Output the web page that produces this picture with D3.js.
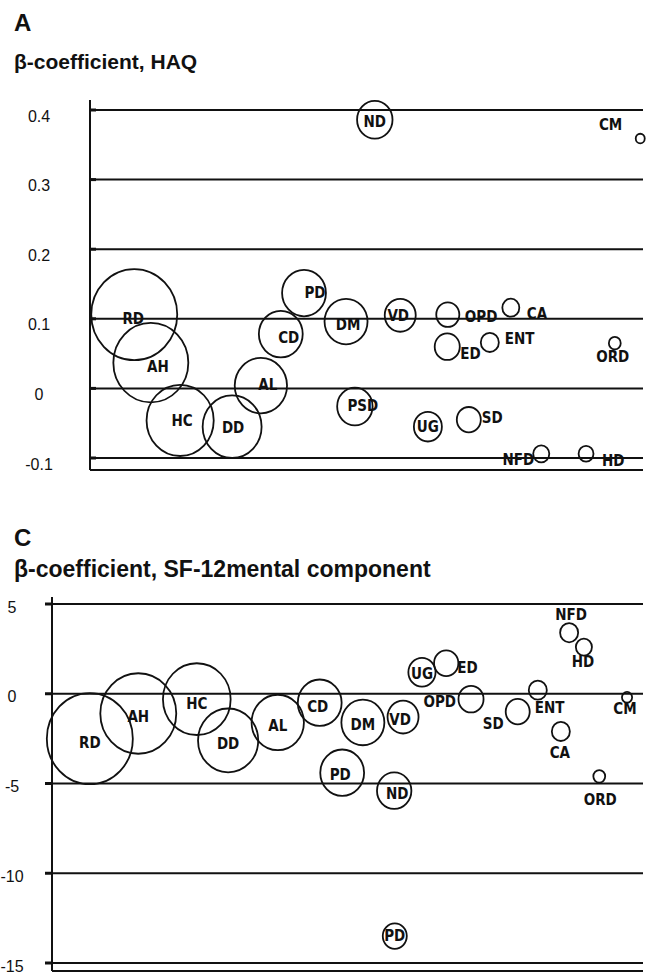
<!DOCTYPE html>
<html>
<head>
<meta charset="utf-8">
<script src="https://cdn.jsdelivr.net/npm/d3@7"></script>
<style>
  body { margin: 0; background: #fff; }
  .lbl { font-family: "DejaVu Sans Condensed", "DejaVu Sans", sans-serif; font-weight: bold; font-size: 15px; fill: #111; }
  .tick-lbl { font-family: "Liberation Sans", Arial, sans-serif; font-size: 16px; fill: #111; }
  .ptitle { font-family: "Liberation Sans", Arial, sans-serif; font-weight: bold; fill: #111; }
</style>
</head>
<body>
<svg id="chart" width="646" height="974"></svg>
<script>
// Panel A: beta-coefficient, HAQ
var haqLabels = ["RD","AH","HC","DD","AL","CD","PD","DM","PSD","ND","VD","UG","ED","OPD","SD","ENT","CA","NFD","HD","ORD","CM"];
var haqPos    = [8.0, 11.0, 16.3, 25.7, 30.9, 34.5, 38.7, 46.3, 47.9, 51.5, 56.1, 61.1, 64.6, 64.7, 68.5, 72.3, 76.1, 81.6, 89.7, 94.9, 99.5];
var haqBeta   = [0.106, 0.037, -0.046, -0.055, 0.004, 0.078, 0.137, 0.096, -0.026, 0.386, 0.105, -0.055, 0.060, 0.106, -0.045, 0.066, 0.116, -0.094, -0.094, 0.065, 0.359];
var haqSize   = [100, 76, 61, 47, 37, 26, 26, 25, 17, 17, 13, 10.6, 8.5, 7.2, 7.8, 4.4, 3.9, 3.5, 3.0, 1.9, 1.1];
var haqTicks  = [-0.1, 0, 0.1, 0.2, 0.3, 0.4];

// Panel C: beta-coefficient, SF-12 mental component
var mcsLabels = ["RD","AH","HC","DD","AL","CD","PD","DM","ND","VD","UG","ED","OPD","SD","ENT","CA","NFD","HD","ORD","CM","PD"];
var mcsPos    = [6.4, 14.6, 24.5, 29.8, 38.2, 45.3, 49.1, 52.6, 57.9, 59.4, 62.6, 66.7, 70.9, 78.8, 82.2, 86.1, 87.5, 90.0, 92.6, 97.3, 58.0];
var mcsBeta   = [-2.5, -1.1, -0.3, -2.6, -1.6, -0.5, -4.4, -1.6, -5.4, -1.3, 1.2, 1.7, -0.3, -1.0, 0.2, -2.1, 3.4, 2.6, -4.6, -0.2, -13.5];
var mcsSize   = [100, 78, 62, 49, 37, 26, 26, 25, 16, 13, 10, 8, 8.5, 7.8, 4.4, 4.4, 4.4, 3.5, 1.9, 1.4, 7.8];
var mcsTicks  = [-15, -10, -5, 0, 5];

// label placement (anchor, dx, dy from bubble centre)
var haqPlace = [["middle",-1,4],["middle",7,4],["middle",2,1],["middle",1,1],["middle",7,-1],["middle",8,4],["middle",11,0],
  ["middle",2,3],["middle",8,0],["middle",0,2],["middle",-2,1],["middle",0,0],["start",13,7],["start",17,2],["start",13,-2],
  ["start",15,-3],["start",16,6],["end",-7,6],["start",16,7],["middle",-2,14],["end",-18,-14]];
var mcsPlace = [["middle",0,4],["middle",0,4],["middle",0,5],["middle",0,4],["middle",0,4],["middle",-2,4],["middle",-2,2],
  ["middle",0,3],["middle",3,3],["middle",-3,3],["middle",0,2],["start",11,5],["end",-15,3],["end",-14,12],["start",-3,18],
  ["middle",-1,22],["middle",2,-18],["middle",-1,15],["middle",1,24],["middle",-2,12],["middle",0,0]];

var svg = d3.select("#chart");
var rScale = d3.scaleSqrt().domain([0, 100]).range([0, 43]);

function drawPanel(o) {
  var g = svg.append("g");
  var x = d3.scaleLinear().domain([0, 100]).range([o.left, o.right]);
  var y = d3.scaleLinear().domain([o.ticks[0], o.ticks[o.ticks.length - 1]]).range([o.bottom, o.top]);

  g.append("text").attr("class", "ptitle").attr("x", 14).attr("y", o.letterY)
    .attr("font-size", 24).text(o.letter);
  g.append("text").attr("class", "ptitle").attr("x", 14).attr("y", o.titleY)
    .attr("font-size", o.titleSize).text(o.title);

  // gridlines
  g.selectAll(".grid").data(o.ticks).enter().append("line")
    .attr("x1", o.left).attr("x2", o.right)
    .attr("y1", function(d) { return y(d); }).attr("y2", function(d) { return y(d); })
    .attr("stroke", "#111").attr("stroke-width", 2);

  // tick stubs
  g.selectAll(".stub").data(o.ticks).enter().append("line")
    .attr("x1", o.left + o.stub).attr("x2", o.left)
    .attr("y1", function(d) { return y(d); }).attr("y2", function(d) { return y(d); })
    .attr("stroke", "#111").attr("stroke-width", 3);

  // axis frame
  g.append("line").attr("x1", o.left).attr("x2", o.left)
    .attr("y1", o.top - o.overTop).attr("y2", o.bottom + o.under)
    .attr("stroke", "#111").attr("stroke-width", 2);
  g.append("line").attr("x1", o.left).attr("x2", o.right)
    .attr("y1", o.bottom + o.under).attr("y2", o.bottom + o.under)
    .attr("stroke", "#111").attr("stroke-width", 2);

  g.selectAll(".tick-lbl").data(o.ticks).enter().append("text")
    .attr("class", "tick-lbl")
    .attr("x", o.tickX)
    .attr("y", function(d) { return y(d) + o.tickDy; })
    .attr("text-anchor", "middle")
    .attr("dominant-baseline", "central")
    .text(function(d) { return d; });

  var data = o.labels.map(function(l, i) {
    return {label: l, pos: o.pos[i], beta: o.beta[i], size: o.size[i], place: o.place[i]};
  });

  g.selectAll("ellipse").data(data).enter().append("ellipse")
    .attr("cx", function(d) { return x(d.pos); })
    .attr("cy", function(d) { return y(d.beta); })
    .attr("rx", function(d) { return rScale(d.size); })
    .attr("ry", function(d) { return rScale(d.size) * 1.06; })
    .attr("fill", "none").attr("stroke", "#111").attr("stroke-width", 1.8);

  g.selectAll(".lbl").data(data).enter().append("text")
    .attr("class", "lbl")
    .attr("x", function(d) { return x(d.pos) + d.place[1]; })
    .attr("y", function(d) { return y(d.beta) + d.place[2]; })
    .attr("text-anchor", function(d) { return d.place[0]; })
    .attr("dominant-baseline", "central")
    .text(function(d) { return d.label; });
}

drawPanel({letter: "A", letterY: 31, title: "β-coefficient, HAQ", titleY: 69, titleSize: 21,
  left: 90, right: 643, top: 110, bottom: 458, overTop: 10, under: 12, stub: 6,
  tickX: 39, tickDy: 6, ticks: haqTicks,
  labels: haqLabels, pos: haqPos, beta: haqBeta, size: haqSize, place: haqPlace});

drawPanel({letter: "C", letterY: 546, title: "β-coefficient, SF-12mental component", titleY: 577, titleSize: 23,
  left: 52, right: 643, top: 604, bottom: 963, overTop: 7, under: 8, stub: -7,
  tickX: 12, tickDy: 3, ticks: mcsTicks,
  labels: mcsLabels, pos: mcsPos, beta: mcsBeta, size: mcsSize, place: mcsPlace});
</script>
</body>
</html>
